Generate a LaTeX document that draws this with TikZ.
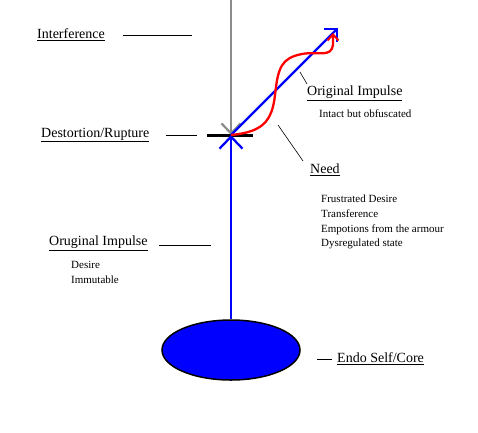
\documentclass[tikz,border=0pt]{standalone}
\usepackage{fontspec}
\setmainfont{Liberation Serif}
\usetikzlibrary{arrows.meta,shapes.geometric}
\begin{document}
\begin{tikzpicture}[x=1pt,y=-1pt,
  lbl/.style={anchor=west,inner sep=0pt,font=\fontsize{14}{16}\selectfont},
  sml/.style={anchor=west,inner sep=0pt,font=\fontsize{11}{14.6}\selectfont,align=left},
  leader/.style={draw=black,line width=0.6pt},
  blueline/.style={draw=blue,line width=2.3pt}]
\useasboundingbox (0,0) rectangle (478,432);
\coordinate (top) at (231,0);
\coordinate (rup) at (231,135);
\coordinate (barL) at (207,135);
\coordinate (barR) at (253,135);
\coordinate (diag) at (338,28);
\coordinate (redend) at (333,33);
\node[ellipse,draw=black,line width=1.5pt,fill=blue,minimum width=138pt,minimum height=60pt,inner sep=0pt] (core) at (231,350) {};
% gray interference line
\draw[draw=gray!90,line width=2.4pt,-{Straight Barb[length=10pt,width=19pt,line width=2.2pt]}] (top) -- (rup);
% black bar
\draw[line width=3pt] (barL) -- (barR);
% blue vertical
\draw[blueline,-{Straight Barb[length=12pt,width=23pt,line width=2.3pt]}] (core.north) -- (rup);
% blue diagonal
\draw[blueline,-{Straight Barb[length=9pt,width=18pt,line width=2.3pt]}] (rup) -- (diag);
% red curve
\draw[draw=red,line width=2.3pt,-{Straight Barb[length=6pt,width=11pt,line width=2pt]}] (rup) .. controls (262,132) and (272,122) .. (275,95)
  .. controls (278,68) and (281,58) .. (302,54)
  .. controls (318,51) and (331,58) .. (333,45) -- (redend);
% labels
\node[lbl] (interf) at (37,35) {\underline{Interference}};
\coordinate (ifA) at (123,35); \coordinate (ifB) at (192,35);
\draw[leader] (ifA) -- (ifB);
\node[lbl] (dest) at (41,135) {\underline{Destortion/Rupture}};
\coordinate (dA) at (166,135); \coordinate (dB) at (197,135);
\draw[leader] (dA) -- (dB);
\node[lbl] (orig) at (307,93) {\underline{Original Impulse}};
\coordinate (oA) at (300,72); \coordinate (oB) at (307,84);
\draw[leader] (oA) -- (oB);
\node[sml] (intact) at (319,114) {Intact but obfuscated};
\node[lbl] (need) at (310,170) {\underline{Need}};
\coordinate (nA) at (278,125); \coordinate (nB) at (303,161);
\draw[leader] (nA) -- (nB);
\node[sml,anchor=north west] (needlist) at (321,195) {Frustrated Desire\\Transference\\Empotions from the armour\\Dysregulated state};
\node[lbl] (orug) at (49,243) {\underline{Oruginal Impulse}};
\coordinate (uA) at (159,245); \coordinate (uB) at (211,245);
\draw[leader] (uA) -- (uB);
\node[sml,anchor=north west] (desire) at (71,261) {Desire\\Immutable};
\coordinate (eA) at (317,359); \coordinate (eB) at (332,359);
\draw[leader] (eA) -- (eB);
\node[lbl] (endo) at (337,359) {\underline{Endo Self/Core}};
\end{tikzpicture}
\end{document}
